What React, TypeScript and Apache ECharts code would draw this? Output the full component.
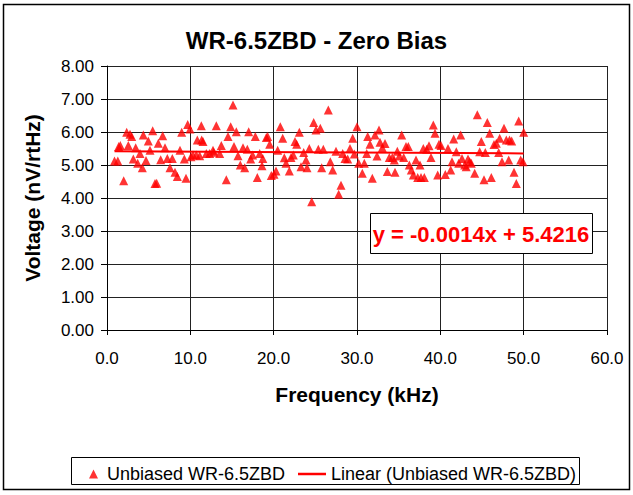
import React, { useEffect, useRef } from "react";
import * as echarts from "echarts";

const TITLE = "WR-6.5ZBD - Zero Bias";
const X_NAME = "Frequency (kHz)";
const Y_NAME = "Voltage (nV/rtHz)";
const SERIES_NAME = "Unbiased WR-6.5ZBD";
const TREND_NAME = "Linear (Unbiased WR-6.5ZBD)";
const EQUATION = "y = -0.0014x + 5.4216";

const FREQ = [
  0.9, 1.3, 1.4, 1.6, 2.0, 2.36, 2.56, 2.76, 2.96, 3.16, 3.44, 3.68, 3.96, 4.24, 4.36, 4.68, 4.96, 5.16, 5.48, 5.76,
  5.96, 6.16, 6.44, 6.68, 6.96, 7.24, 7.56, 7.84, 8.16, 8.44, 8.76, 8.96, 9.28, 9.48, 9.68, 9.96, 10.08,
  10.32, 10.72, 10.84, 11.12, 11.32, 11.36, 11.52, 11.92, 12.32, 12.72, 12.8, 13.12, 13.52, 13.72, 14.32, 14.52, 14.84,
  15.12, 15.24, 15.52, 15.72, 16.0, 16.32, 16.52, 16.84, 17.0, 17.24, 17.48, 17.8, 18.04, 18.32, 18.6, 18.7, 19.12,
  19.28, 19.52, 19.72,
  20.04, 20.28, 20.48, 20.8, 21.08, 21.28, 21.48, 21.88, 22.08, 22.36, 22.56, 22.76, 23.08, 23.28, 23.6, 23.88, 24.0,
  24.28, 24.56, 24.8, 25.08, 25.36, 25.6, 25.76, 25.96, 26.56, 26.8, 27.08, 27.48, 27.8, 28.08, 28.28, 28.56, 28.88,
  29.16, 29.48, 29.68, 30.0, 30.2,
  30.64, 30.88, 31.16, 31.28, 31.56, 31.84, 32.16, 32.4, 32.64, 32.76, 33.04, 33.36, 33.64, 33.88, 34.24, 34.48, 34.56,
  34.84, 35.08, 35.36, 35.6, 35.88, 36.16, 36.28, 36.52, 36.76, 37.08, 37.28, 37.56, 37.68, 37.96, 38.08, 38.36, 38.64,
  38.88, 39.16, 39.36, 39.68, 39.84, 40.08,
  40.6, 40.92, 41.24, 41.4, 41.6, 41.92, 42.2, 42.44, 42.6, 42.92, 43.1, 43.32, 43.52, 43.72, 44.12, 44.44, 44.72, 44.92,
  45.24, 45.4, 45.64, 45.92, 46.12, 46.44, 46.72, 47.0, 47.12, 47.4, 47.64, 47.92, 48.2, 48.3, 48.56, 48.84, 49.12, 49.4,
  49.64, 49.92, 50.0,
];

const VOLT = [
  5.12, 5.12, 5.56, 5.59, 4.52, 5.99, 5.59, 5.93, 5.86, 5.18, 5.52, 5.05, 5.35, 4.92, 5.91, 5.14, 5.73, 5.45, 6.04, 4.44,
  4.45, 5.66, 5.16, 5.89, 5.52, 5.2, 4.92, 5.2, 4.78, 4.65, 5.45, 5.99, 5.18, 4.6, 6.23, 6.09, 5.25,
  5.3, 5.3, 5.76, 5.28, 6.19, 5.76, 5.71, 5.35, 5.35, 5.45, 5.39, 6.19, 5.35, 5.59, 4.55, 5.86, 6.16,
  6.82, 5.56, 6.01, 5.28, 5.0, 5.52, 4.92, 5.48, 6.01, 5.18, 5.3, 5.86, 4.62, 5.35, 4.98, 5.2, 5.83,
  5.86, 5.63, 4.68,
  4.72, 4.82, 5.45, 6.16, 5.81, 5.22, 5.05, 4.82, 5.23, 5.3, 5.71, 5.63, 5.99, 4.95, 5.38, 5.15, 4.92,
  5.5, 3.89, 6.29, 6.06, 5.48, 6.11, 4.92, 5.48, 6.67, 5.1, 4.85, 5.42, 4.11, 4.39, 5.35, 5.2, 5.18,
  5.5, 5.81, 5.33, 6.16, 5.05,
  4.75, 5.05, 5.35, 5.86, 5.63, 4.6, 5.91, 5.27, 6.06, 5.69, 5.52, 5.65, 4.8, 5.23, 5.23, 5.15, 4.78,
  5.42, 5.27, 5.91, 5.23, 5.56, 5.56, 5.0, 4.85, 4.7, 5.15, 4.62, 5.0, 4.62, 5.5, 4.62, 5.48, 5.58,
  5.23, 6.21, 5.96, 4.7, 5.63, 5.59,
  4.71, 5.5, 4.85, 5.1, 5.79, 5.4, 5.05, 5.91, 5.2, 5.0, 4.95, 5.18, 5.1, 5.05, 4.75, 6.52, 5.4, 5.71,
  4.55, 5.38, 6.29, 5.96, 4.62, 5.62, 5.66, 5.38, 5.81, 5.1, 6.11, 5.76, 5.15, 5.76, 5.73, 4.78, 4.44, 6.33,
  5.15, 5.1, 5.99,
];

// Trendline endpoints (from the equation shown on the chart)
const TREND_X = [0.9, 50.0];
const TREND_Y = [5.4203, 5.3516];

const X_MIN = 0;
const X_MAX = 60;
const X_STEP = 10;
const Y_MIN = 0;
const Y_MAX = 8;
const Y_STEP = 1;

const FONT = "'Liberation Sans', Arial, sans-serif";

export default function App() {
  const ref = useRef<HTMLDivElement>(null);
  useEffect(() => {
    if (!ref.current) return;
    const chart = echarts.init(ref.current, undefined, { renderer: "svg" });
    const points = FREQ.map((f, i) => [f, VOLT[i]]);
    const trend = TREND_X.map((x, i) => [x, TREND_Y[i]]);
    chart.setOption({
      animation: false,
      backgroundColor: "#ffffff",
      textStyle: { fontFamily: FONT },
      title: {
        text: TITLE,
        left: "center",
        top: 23,
        textStyle: { fontFamily: FONT, fontSize: 24, fontWeight: "bold", color: "#000" },
      },
      grid: { left: 107, right: 26, top: 66, bottom: 165, containLabel: false, show: false },
      xAxis: {
        type: "value",
        min: X_MIN,
        max: X_MAX,
        interval: X_STEP,
        name: X_NAME,
        nameLocation: "middle",
        nameGap: 54,
        nameTextStyle: { fontFamily: FONT, fontSize: 21, fontWeight: "bold", color: "#000" },
        axisLine: { show: true, onZero: false, lineStyle: { color: "#000", width: 1 } },
        axisTick: { show: true, inside: false, length: 5, lineStyle: { color: "#000" } },
        axisLabel: {
          fontFamily: FONT,
          fontSize: 17,
          color: "#000",
          margin: 20,
          formatter: (v: number) => v.toFixed(1),
        },
        splitLine: { show: true, lineStyle: { color: "#222", width: 1 } },
      },
      yAxis: {
        type: "value",
        min: Y_MIN,
        max: Y_MAX,
        interval: Y_STEP,
        name: Y_NAME,
        nameLocation: "middle",
        nameGap: 64,
        nameRotate: 90,
        nameTextStyle: { fontFamily: FONT, fontSize: 21, fontWeight: "bold", color: "#000" },
        axisLine: { show: true, onZero: false, lineStyle: { color: "#000", width: 1 } },
        axisTick: { show: true, inside: false, length: 6, lineStyle: { color: "#000" } },
        axisLabel: {
          fontFamily: FONT,
          fontSize: 17,
          color: "#000",
          margin: 13,
          formatter: (v: number) => v.toFixed(2),
        },
        splitLine: { show: true, lineStyle: { color: "#222", width: 1 } },
      },
      legend: [
        {
          data: [{ name: SERIES_NAME, icon: "triangle" }],
          left: 84,
          top: 460,
          itemWidth: 9,
          itemHeight: 9,
          itemGap: 10,
          textStyle: { fontFamily: FONT, fontSize: 18, color: "#000", padding: [0, 0, 0, 4] },
          selectedMode: false,
        },
        {
          data: [{ name: TREND_NAME, icon: "rect" }],
          left: 293,
          top: 460,
          itemWidth: 28,
          itemHeight: 2.5,
          textStyle: { fontFamily: FONT, fontSize: 18, color: "#000" },
          selectedMode: false,
        },
      ],
      graphic: [
        {
          type: "rect",
          silent: true,
          shape: { x: 3.5, y: 4.5, width: 626, height: 485 },
          style: { fill: "none", stroke: "#000", lineWidth: 1.5 },
          z: 100,
        },
        {
          type: "rect",
          silent: true,
          shape: { x: 71.5, y: 457.5, width: 508, height: 27 },
          style: { fill: "none", stroke: "#000", lineWidth: 1 },
          z: 100,
        },
        {
          type: "rect",
          silent: true,
          shape: { x: 370.5, y: 213.5, width: 222, height: 40 },
          style: { fill: "#fff", stroke: "#000", lineWidth: 1 },
          z: 100,
        },
        {
          type: "text",
          silent: true,
          x: 481,
          y: 234,
          style: {
            text: EQUATION,
            fill: "#ff0000",
            font: `bold 22px ${FONT}`,
            align: "center",
            verticalAlign: "middle",
          },
          z: 101,
        },
      ],
      series: [
        {
          name: SERIES_NAME,
          type: "scatter",
          data: points,
          symbol: "triangle",
          symbolSize: [9, 9],
          itemStyle: { color: "#ff0000" },
          z: 3,
        },
        {
          name: TREND_NAME,
          type: "line",
          data: trend,
          symbol: "none",
          lineStyle: { color: "#ff0000", width: 2 },
          itemStyle: { color: "#ff0000" },
          z: 4,
        },
      ],
    });
    return () => chart.dispose();
  }, []);
  return <div ref={ref} style={{ width: 633, height: 495, position: "absolute", left: 0, top: 0 }} />;
}
